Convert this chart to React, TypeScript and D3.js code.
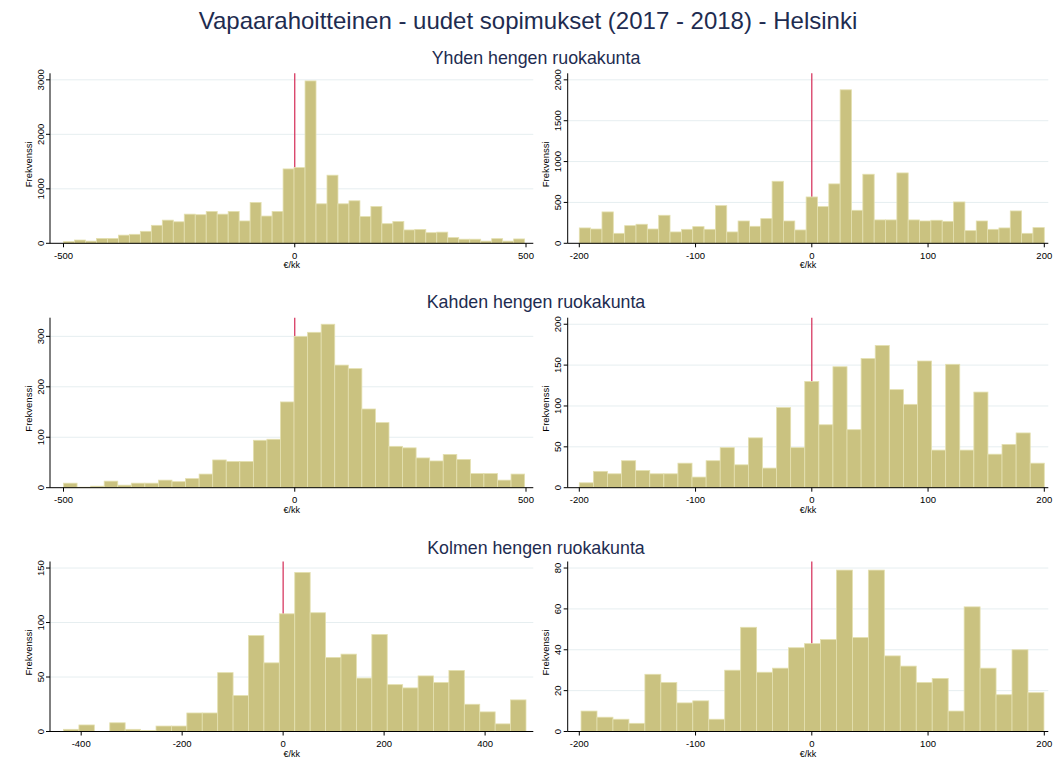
import React from "react";
import * as d3 from "d3";

// ---------- data ----------
const title = "Vapaarahoitteinen - uudet sopimukset (2017 - 2018) - Helsinki";
const rowTitles = ["Yhden hengen ruokakunta", "Kahden hengen ruokakunta", "Kolmen hengen ruokakunta"];

// histogram counts (Frekvenssi) per bin, bins spread evenly over [binMin, binMax]
const yhdenWide = [30, 60, 40, 90, 90, 150, 165, 220, 330, 425, 395, 535, 525, 585, 535, 585, 410, 750, 500, 585, 1365, 1390, 2980, 725, 1250, 725, 780, 490, 675, 360, 400, 245, 255, 195, 205, 105, 75, 75, 40, 85, 40, 80];
const yhdenNarrow = [188, 175, 384, 122, 216, 233, 175, 343, 139, 171, 204, 171, 461, 139, 273, 208, 302, 759, 273, 163, 567, 449, 727, 1878, 404, 845, 286, 286, 861, 286, 273, 282, 269, 506, 155, 273, 171, 188, 396, 122, 192];
const kahdenWide = [9, 1, 3, 13, 5, 9, 9, 15, 12, 18, 27, 55, 52, 52, 94, 96, 170, 300, 308, 324, 243, 236, 156, 129, 82, 79, 59, 53, 66, 56, 28, 28, 15, 27];
const kahdenNarrow = [6, 20, 17, 33, 21, 17, 17, 30, 13, 33, 49, 28, 61, 24, 98, 49, 130, 77, 148, 71, 158, 174, 120, 102, 155, 46, 151, 46, 117, 41, 53, 67, 30];
const kolmenWide = [2, 6, 0, 8, 2, 1, 5, 5, 17, 17, 54, 33, 88, 63, 108, 146, 109, 68, 71, 49, 89, 43, 40, 51, 45, 56, 25, 18, 7, 29];
const kolmenNarrow = [10, 7, 6, 4, 28, 24, 14, 15, 6, 30, 51, 29, 31, 41, 43, 45, 79, 46, 79, 37, 32, 24, 26, 10, 61, 31, 18, 40, 19];

// bin ranges (€/kk)
const binRanges: [number, number][] = [[-500, 497], [-200, 200], [-500, 497], [-200, 200], [-435, 481], [-198.5, 199.7]];

// tick labels
const xTicksWide500 = [-500, 0, 500];
const xTicksWide400 = [-400, -200, 0, 200, 400];
const xTicksNarrow = [-200, -100, 0, 100, 200];
const yTicks1L = [0, 1000, 2000, 3000];
const yTicks1R = [0, 500, 1000, 1500, 2000];
const yTicks2L = [0, 100, 200, 300];
const yTicks2R = [0, 50, 100, 150, 200];
const yTicks3L = [0, 50, 100, 150];
const yTicks3R = [0, 20, 40, 60, 80];

const panels = [
  { counts: yhdenWide, bins: binRanges[0], xTicks: xTicksWide500, yTicks: yTicks1L, row: 0, col: 0 },
  { counts: yhdenNarrow, bins: binRanges[1], xTicks: xTicksNarrow, yTicks: yTicks1R, row: 0, col: 1 },
  { counts: kahdenWide, bins: binRanges[2], xTicks: xTicksWide500, yTicks: yTicks2L, row: 1, col: 0 },
  { counts: kahdenNarrow, bins: binRanges[3], xTicks: xTicksNarrow, yTicks: yTicks2R, row: 1, col: 1 },
  { counts: kolmenWide, bins: binRanges[4], xTicks: xTicksWide400, yTicks: yTicks3L, row: 2, col: 0 },
  { counts: kolmenNarrow, bins: binRanges[5], xTicks: xTicksNarrow, yTicks: yTicks3R, row: 2, col: 1 },
];

// ---------- layout ----------
const W = 1056, H = 772;
const FONT = "'Liberation Sans', Arial, Helvetica, sans-serif";
const TITLE_COLOR = "#1e2c50";
const BAR_FILL = "#cac280";
const BAR_STROKE = "#e4e0b0";
const REF_COLOR = "#d42a55";
const GRID = "#e6eef0";

const cols = [
  { axisX: 50, right: 533.3, r0: 63.5, r1: 526 },
  { axisX: 567.7, right: 1048.3, r0: 579.3, r1: 1044.3 },
];
const rowsY = [
  { base: 243.3, sub: 58 },
  { base: 487.7, sub: 302 },
  { base: 731.5, sub: 548 },
];
const PLOT_H = 170;

function Panel({ p }: { p: typeof panels[number] }) {
  const c = cols[p.col];
  const r = rowsY[p.row];
  const [bMin, bMax] = p.bins;
  const n = p.counts.length;
  const bw = (bMax - bMin) / n;
  const dMin = Math.min(bMin, p.xTicks[0]);
  const dMax = Math.max(bMax, p.xTicks[p.xTicks.length - 1]);
  const x = d3.scaleLinear().domain([dMin, dMax]).range([c.r0, c.r1]);
  const yTop = Math.max(d3.max(p.counts) as number, p.yTicks[p.yTicks.length - 1]) * 1.04;
  const y = d3.scaleLinear().domain([0, yTop]).range([r.base, r.base - PLOT_H]);
  const top = r.base - PLOT_H;
  const midX = (c.axisX + c.right) / 2;
  return (
    <g>
      {p.yTicks.filter((t) => t > 0).map((t) => (
        <line key={"g" + t} x1={c.axisX} x2={c.right} y1={y(t)} y2={y(t)} stroke={GRID} strokeWidth={1} />
      ))}
      <line x1={x(0)} x2={x(0)} y1={r.base} y2={top} stroke={REF_COLOR} strokeWidth={1.2} />
      {p.counts.map((v, i) => {
        const x0 = x(bMin + i * bw);
        const x1 = x(bMin + (i + 1) * bw);
        if (v <= 0) return null;
        return (
          <rect key={i} x={x0} y={y(v)} width={x1 - x0} height={y(0) - y(v)} fill={BAR_FILL} stroke={BAR_STROKE} strokeWidth={0.8} />
        );
      })}
      {/* axes */}
      <line x1={c.axisX} x2={c.axisX} y1={top} y2={r.base} stroke="#000" strokeWidth={1} />
      <line x1={c.axisX} x2={c.right} y1={r.base} y2={r.base} stroke="#000" strokeWidth={1} />
      {p.yTicks.map((t) => (
        <g key={"yt" + t}>
          <line x1={c.axisX - 4} x2={c.axisX} y1={y(t)} y2={y(t)} stroke="#000" strokeWidth={1} />
          <text transform={`translate(${c.axisX - 10},${y(t)}) rotate(-90)`} textAnchor="middle" dominantBaseline="central" fontSize={9.5} fontFamily={FONT} fill="#000">{t}</text>
        </g>
      ))}
      {p.xTicks.map((t) => (
        <g key={"xt" + t}>
          <line x1={x(t)} x2={x(t)} y1={r.base} y2={r.base + 4} stroke="#000" strokeWidth={1} />
          <text x={x(t)} y={r.base + 12} textAnchor="middle" dominantBaseline="central" fontSize={9.5} fontFamily={FONT} fill="#000">{t}</text>
        </g>
      ))}
      <text transform={`translate(${c.axisX - 22},${r.base - PLOT_H / 2 + 6}) rotate(-90)`} textAnchor="middle" dominantBaseline="central" fontSize={9.5} fontFamily={FONT} fill="#000">Frekvenssi</text>
      <text x={midX} y={r.base + 22} textAnchor="middle" dominantBaseline="central" fontSize={9} fontFamily={FONT} fill="#000">€/kk</text>
    </g>
  );
}

export default function App() {
  return (
    <svg width={W} height={H} style={{ position: "absolute", left: 0, top: 0, background: "#fff" }}>
      <rect x={0} y={0} width={W} height={H} fill="#fff" />
      <text x={528} y={20} textAnchor="middle" dominantBaseline="central" fontSize={24} fontFamily={FONT} fill={TITLE_COLOR}>{title}</text>
      {rowTitles.map((t, i) => (
        <text key={t} x={536} y={rowsY[i].sub} textAnchor="middle" dominantBaseline="central" fontSize={17.8} fontFamily={FONT} fill={TITLE_COLOR}>{t}</text>
      ))}
      {panels.map((p, i) => (
        <Panel key={i} p={p} />
      ))}
    </svg>
  );
}
